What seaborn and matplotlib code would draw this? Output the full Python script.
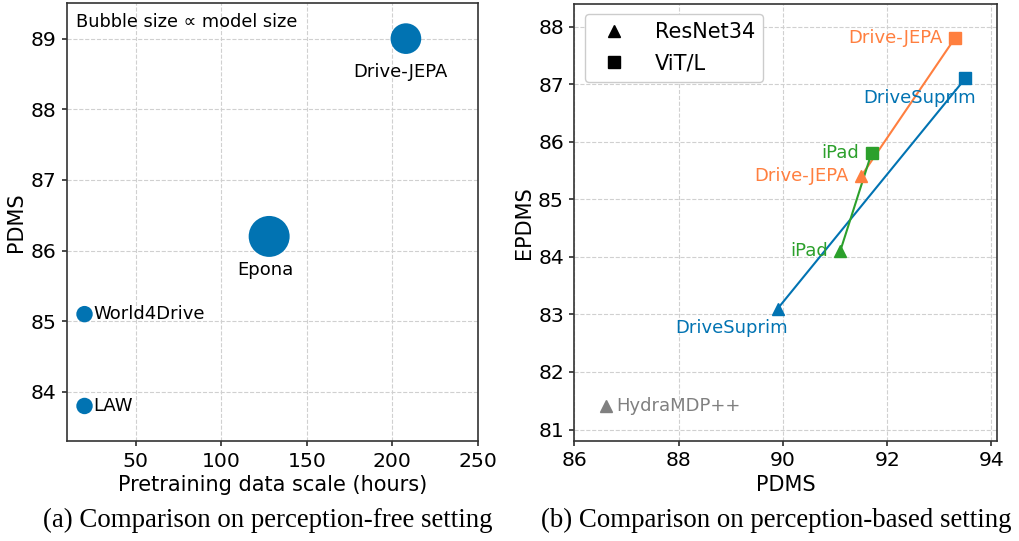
import numpy as np
import pandas as pd
import matplotlib
matplotlib.use("Agg")
import matplotlib.pyplot as plt
import seaborn as sns
from matplotlib.lines import Line2D

# (a) perception-free setting
free_methods = ["LAW", "World4Drive", "Epona", "Drive-JEPA"]
free_hours = [20, 20, 128, 208]
free_pdms = [83.8, 85.1, 86.2, 89.0]
free_model_size = [0.1, 0.1, 2.2, 1.1]

# (b) perception-based setting
based_methods = ["DriveSuprim", "Drive-JEPA", "iPad"]
resnet_pdms = [89.9, 91.5, 91.1]
resnet_epdms = [83.1, 85.4, 84.1]
vit_pdms = [93.5, 93.3, 91.7]
vit_epdms = [87.1, 87.8, 85.8]
hydra_pdms = 86.6
hydra_epdms = 81.4

BLUE = "#0173B2"
ORANGE = "#FF7F3F"
GREEN = "#2CA02C"
GRAY = "#808080"
method_colors = {"DriveSuprim": BLUE, "Drive-JEPA": ORANGE, "iPad": GREEN}

sns.set_theme(style="whitegrid")
plt.rcParams["font.family"] = ["DejaVu Sans"]
plt.rcParams.update({
    "grid.linestyle": "--",
    "grid.color": "#d0d0d0",
    "grid.linewidth": 0.8,
    "axes.edgecolor": "#333333",
    "axes.linewidth": 1.2,
    "axes.labelcolor": "black",
    "text.color": "black",
    "xtick.bottom": True,
    "ytick.left": True,
    "xtick.major.size": 3.5,
    "ytick.major.size": 3.5,
    "xtick.color": "#333333",
    "ytick.color": "#333333",
    "xtick.labelcolor": "black",
    "ytick.labelcolor": "black",
})

fig = plt.figure(figsize=(10.19, 5.41), dpi=100)
ax1 = fig.add_axes([0.0655, 0.1843, 0.4033, 0.8096])
ax2 = fig.add_axes([0.5636, 0.1848, 0.4145, 0.8087])

# ---- panel (a)
df_free = pd.DataFrame({"method": free_methods, "hours": free_hours,
                        "pdms": free_pdms, "size": free_model_size})
sns.scatterplot(data=df_free, x="hours", y="pdms", size="size", sizes=(140, 870),
                color=BLUE, edgecolor="none", legend=False, ax=ax1, zorder=3)
for m, x, y in zip(free_methods, free_hours, free_pdms):
    if m in ("LAW", "World4Drive"):
        ax1.annotate(m, (x, y), xytext=(6.5, 0), textcoords="offset points",
                     ha="left", va="center", fontsize=13)
    elif m == "Epona":
        ax1.annotate(m, (x, y), xytext=(-3, -24), textcoords="offset points",
                     ha="center", va="center", fontsize=13)
    else:
        ax1.annotate(m, (x, y), xytext=(-4, -24), textcoords="offset points",
                     ha="center", va="center", fontsize=13)
ax1.text(0.022, 0.978, "Bubble size \u221d model size", transform=ax1.transAxes,
         ha="left", va="top", fontsize=12.8)
ax1.set_xlim(9.6, 250)
ax1.set_ylim(83.3, 89.5)
ax1.set_xticks([50, 100, 150, 200, 250])
ax1.set_yticks([84, 85, 86, 87, 88, 89])
ax1.set_xlabel("Pretraining data scale (hours)", fontsize=15, labelpad=3)
ax1.set_ylabel("PDMS", fontsize=15, labelpad=3)
ax1.tick_params(labelsize=14.7, pad=4)

# ---- panel (b)
for i, m in enumerate(based_methods):
    c = method_colors[m]
    seg = pd.DataFrame({"pdms": [resnet_pdms[i], vit_pdms[i]],
                        "epdms": [resnet_epdms[i], vit_epdms[i]]})
    sns.lineplot(data=seg, x="pdms", y="epdms", color=c, lw=1.5, ax=ax2,
                 sort=False, estimator=None, zorder=2)
    ax2.plot(resnet_pdms[i], resnet_epdms[i], marker="^", ms=8.5, color=c,
             ls="none", zorder=3)
    ax2.plot(vit_pdms[i], vit_epdms[i], marker="s", ms=8.5, color=c,
             ls="none", zorder=3)

ax2.plot(hydra_pdms, hydra_epdms, marker="^", ms=8.5, color=GRAY, ls="none", zorder=3)
ax2.annotate("HydraMDP++", (hydra_pdms, hydra_epdms), xytext=(8, 0),
             textcoords="offset points", ha="left", va="center",
             fontsize=13, color=GRAY)

# labels
lab = dict(textcoords="offset points", fontsize=13)
ax2.annotate("Drive-JEPA", (vit_pdms[1], vit_epdms[1]), xytext=(-8.6, 0),
             ha="right", va="center", color=ORANGE, **lab)
ax2.annotate("DriveSuprim", (vit_pdms[0], vit_epdms[0]), xytext=(-33, -14),
             ha="center", va="center", color=BLUE, **lab)
ax2.annotate("iPad", (vit_pdms[2], vit_epdms[2]), xytext=(-9, 0),
             ha="right", va="center", color=GREEN, **lab)
ax2.annotate("Drive-JEPA", (resnet_pdms[1], resnet_epdms[1]), xytext=(-9, 0),
             ha="right", va="center", color=ORANGE, **lab)
ax2.annotate("iPad", (resnet_pdms[2], resnet_epdms[2]), xytext=(-9, 0),
             ha="right", va="center", color=GREEN, **lab)
ax2.annotate("DriveSuprim", (resnet_pdms[0], resnet_epdms[0]), xytext=(-33, -14),
             ha="center", va="center", color=BLUE, **lab)

ax2.set_xlim(86, 94.1)
ax2.set_ylim(80.8, 88.4)
ax2.set_xticks([86, 88, 90, 92, 94])
ax2.set_yticks([81, 82, 83, 84, 85, 86, 87, 88])
ax2.set_xlabel("PDMS", fontsize=15, labelpad=3)
ax2.set_ylabel("EPDMS", fontsize=15, labelpad=3)
ax2.tick_params(labelsize=14.7, pad=4)

handles = [Line2D([], [], marker="^", color="black", ls="none", ms=8.5),
           Line2D([], [], marker="s", color="black", ls="none", ms=8.5)]
ax2.legend(handles, ["ResNet34", "ViT/L"], loc="upper left", fontsize=15,
           handletextpad=0.95, borderpad=0.4, labelspacing=0.55, frameon=True,
           framealpha=1, edgecolor="#cccccc", bbox_to_anchor=(0.0, 1.0))

# sub-captions
fig.text(0.263, 0.038, "(a) Comparison on perception-free setting",
         ha="center", va="center", fontsize=19.4, family="Liberation Serif")
fig.text(0.762, 0.038, "(b) Comparison on perception-based setting",
         ha="center", va="center", fontsize=19.4, family="Liberation Serif")

fig.savefig("out.png", dpi=100)
